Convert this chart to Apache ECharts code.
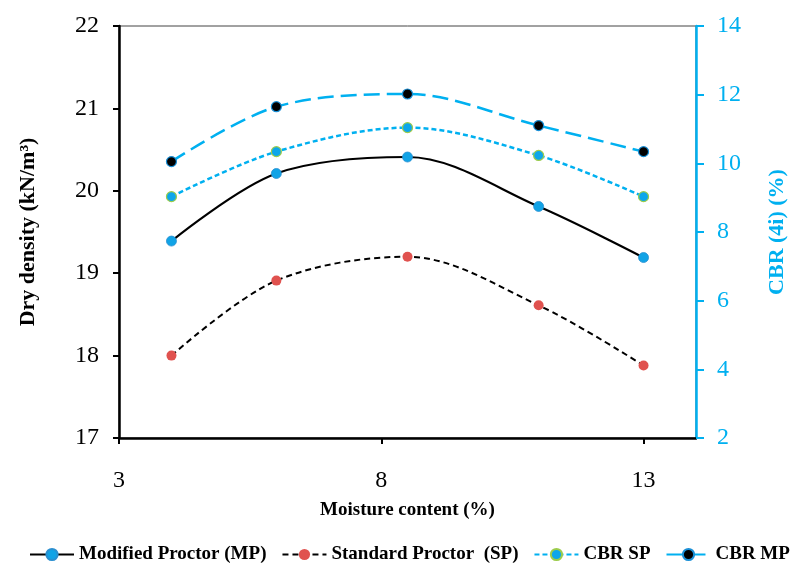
<!DOCTYPE html>
<html>
<head>
<meta charset="utf-8">
<script src="https://cdn.jsdelivr.net/npm/echarts@6/dist/echarts.min.js"></script>
<style>
  html, body { margin: 0; padding: 0; background: #fff; }
  #chart { width: 798px; height: 563px; }
</style>
</head>
<body>
<div id="chart"></div>
<script>
// Moisture content (%) of each test point
const moisture = [4, 6, 8.5, 11, 13];
// Dry density (kN/m³)
const modifiedProctor = [19.39, 20.21, 20.41, 19.81, 19.19];
const standardProctor = [18.0, 18.91, 19.2, 18.61, 17.88];
// CBR (4i) (%)
const cbrSP = [9.03, 10.34, 11.04, 10.23, 9.03];
const cbrMP = [10.05, 11.65, 12.02, 11.1, 10.34];
// Axis tick values
const xTicks = [3, 8, 13];

const pairs = (ys) => moisture.map((x, i) => [x, ys[i]]);
const serif = 'Liberation Serif, Times New Roman, serif';
const cyan = '#00b0f0';
// handle length of about a sixth of the neighbour span, like a Catmull-Rom curve
const SMOOTH = 0.33;

const chart = echarts.init(document.getElementById('chart'), null, { renderer: 'canvas' });

chart.setOption({
  animation: false,
  grid: {
    left: 119, right: 102, top: 26, bottom: 125,
    show: true, borderColor: '#444', borderWidth: 1, backgroundColor: 'transparent'
  },
  xAxis: {
    type: 'value', min: 3, max: 14, interval: 5,
    name: 'Moisture content (%)', nameLocation: 'middle', nameGap: 63,
    nameTextStyle: { fontFamily: serif, fontWeight: 'bold', fontSize: 19, color: '#000' },
    axisLine: { lineStyle: { color: '#000', width: 2.5 } },
    axisTick: { customValues: xTicks, length: 6, lineStyle: { color: '#000', width: 2 } },
    axisLabel: { customValues: xTicks, margin: 31, fontFamily: serif, fontSize: 24, color: '#000' },
    splitLine: { show: false }
  },
  yAxis: [
    {
      type: 'value', min: 17, max: 22, interval: 1, position: 'left',
      name: 'Dry density (kN/m³)', nameLocation: 'middle', nameGap: 80, nameRotate: 90,
      nameTextStyle: { fontFamily: serif, fontWeight: 'bold', fontSize: 22, color: '#000' },
      axisLine: { show: true, lineStyle: { color: '#000', width: 2.5 } },
      axisTick: { show: true, length: 6, lineStyle: { color: '#000', width: 2 } },
      axisLabel: { margin: 20, fontFamily: serif, fontSize: 24, color: '#000' },
      splitLine: { show: false }
    },
    {
      type: 'value', min: 2, max: 14, interval: 2, position: 'right',
      name: 'CBR (4i) (%)', nameLocation: 'middle', nameGap: 70, nameRotate: 90,
      nameTextStyle: { fontFamily: serif, fontWeight: 'bold', fontSize: 22, color: cyan },
      axisLine: { show: true, lineStyle: { color: cyan, width: 2.5 } },
      axisTick: { show: true, length: 8, lineStyle: { color: cyan, width: 2 } },
      axisLabel: { margin: 21, fontFamily: serif, fontSize: 24, color: cyan },
      splitLine: { show: false }
    }
  ],
  legend: {
    top: 540, left: 24, itemWidth: 44, itemHeight: 14, itemGap: 15,
    textStyle: { fontFamily: serif, fontWeight: 'bold', fontSize: 19, color: '#000' },
    data: ['Modified Proctor (MP)', 'Standard Proctor  (SP)', 'CBR SP', 'CBR MP']
  },
  series: [
    {
      name: 'Modified Proctor (MP)', type: 'line', yAxisIndex: 0, smooth: SMOOTH,
      data: pairs(modifiedProctor),
      lineStyle: { color: '#000', width: 2.2 },
      symbol: 'circle', symbolSize: 10,
      itemStyle: { color: '#11a3e6', borderColor: '#2a8fd0', borderWidth: 0.8 }
    },
    {
      name: 'Standard Proctor  (SP)', type: 'line', yAxisIndex: 0, smooth: SMOOTH,
      data: pairs(standardProctor),
      lineStyle: { color: '#000', width: 2, type: [6, 4] },
      symbol: 'circle', symbolSize: 10,
      itemStyle: { color: '#e0524f', borderColor: '#e0524f', borderWidth: 0 }
    },
    {
      name: 'CBR SP', type: 'line', yAxisIndex: 1, smooth: SMOOTH,
      data: pairs(cbrSP),
      lineStyle: { color: cyan, width: 2.5, type: [5, 3] },
      symbol: 'circle', symbolSize: 10,
      itemStyle: { color: '#0ea6ea', borderColor: '#9ccc4c', borderWidth: 1.2 }
    },
    {
      name: 'CBR MP', type: 'line', yAxisIndex: 1, smooth: SMOOTH,
      data: pairs(cbrMP),
      lineStyle: { color: cyan, width: 2.5, type: [16, 7] },
      symbol: 'circle', symbolSize: 10,
      itemStyle: { color: '#000', borderColor: '#1a8fd6', borderWidth: 1.2 }
    }
  ]
});
</script>
</body>
</html>
